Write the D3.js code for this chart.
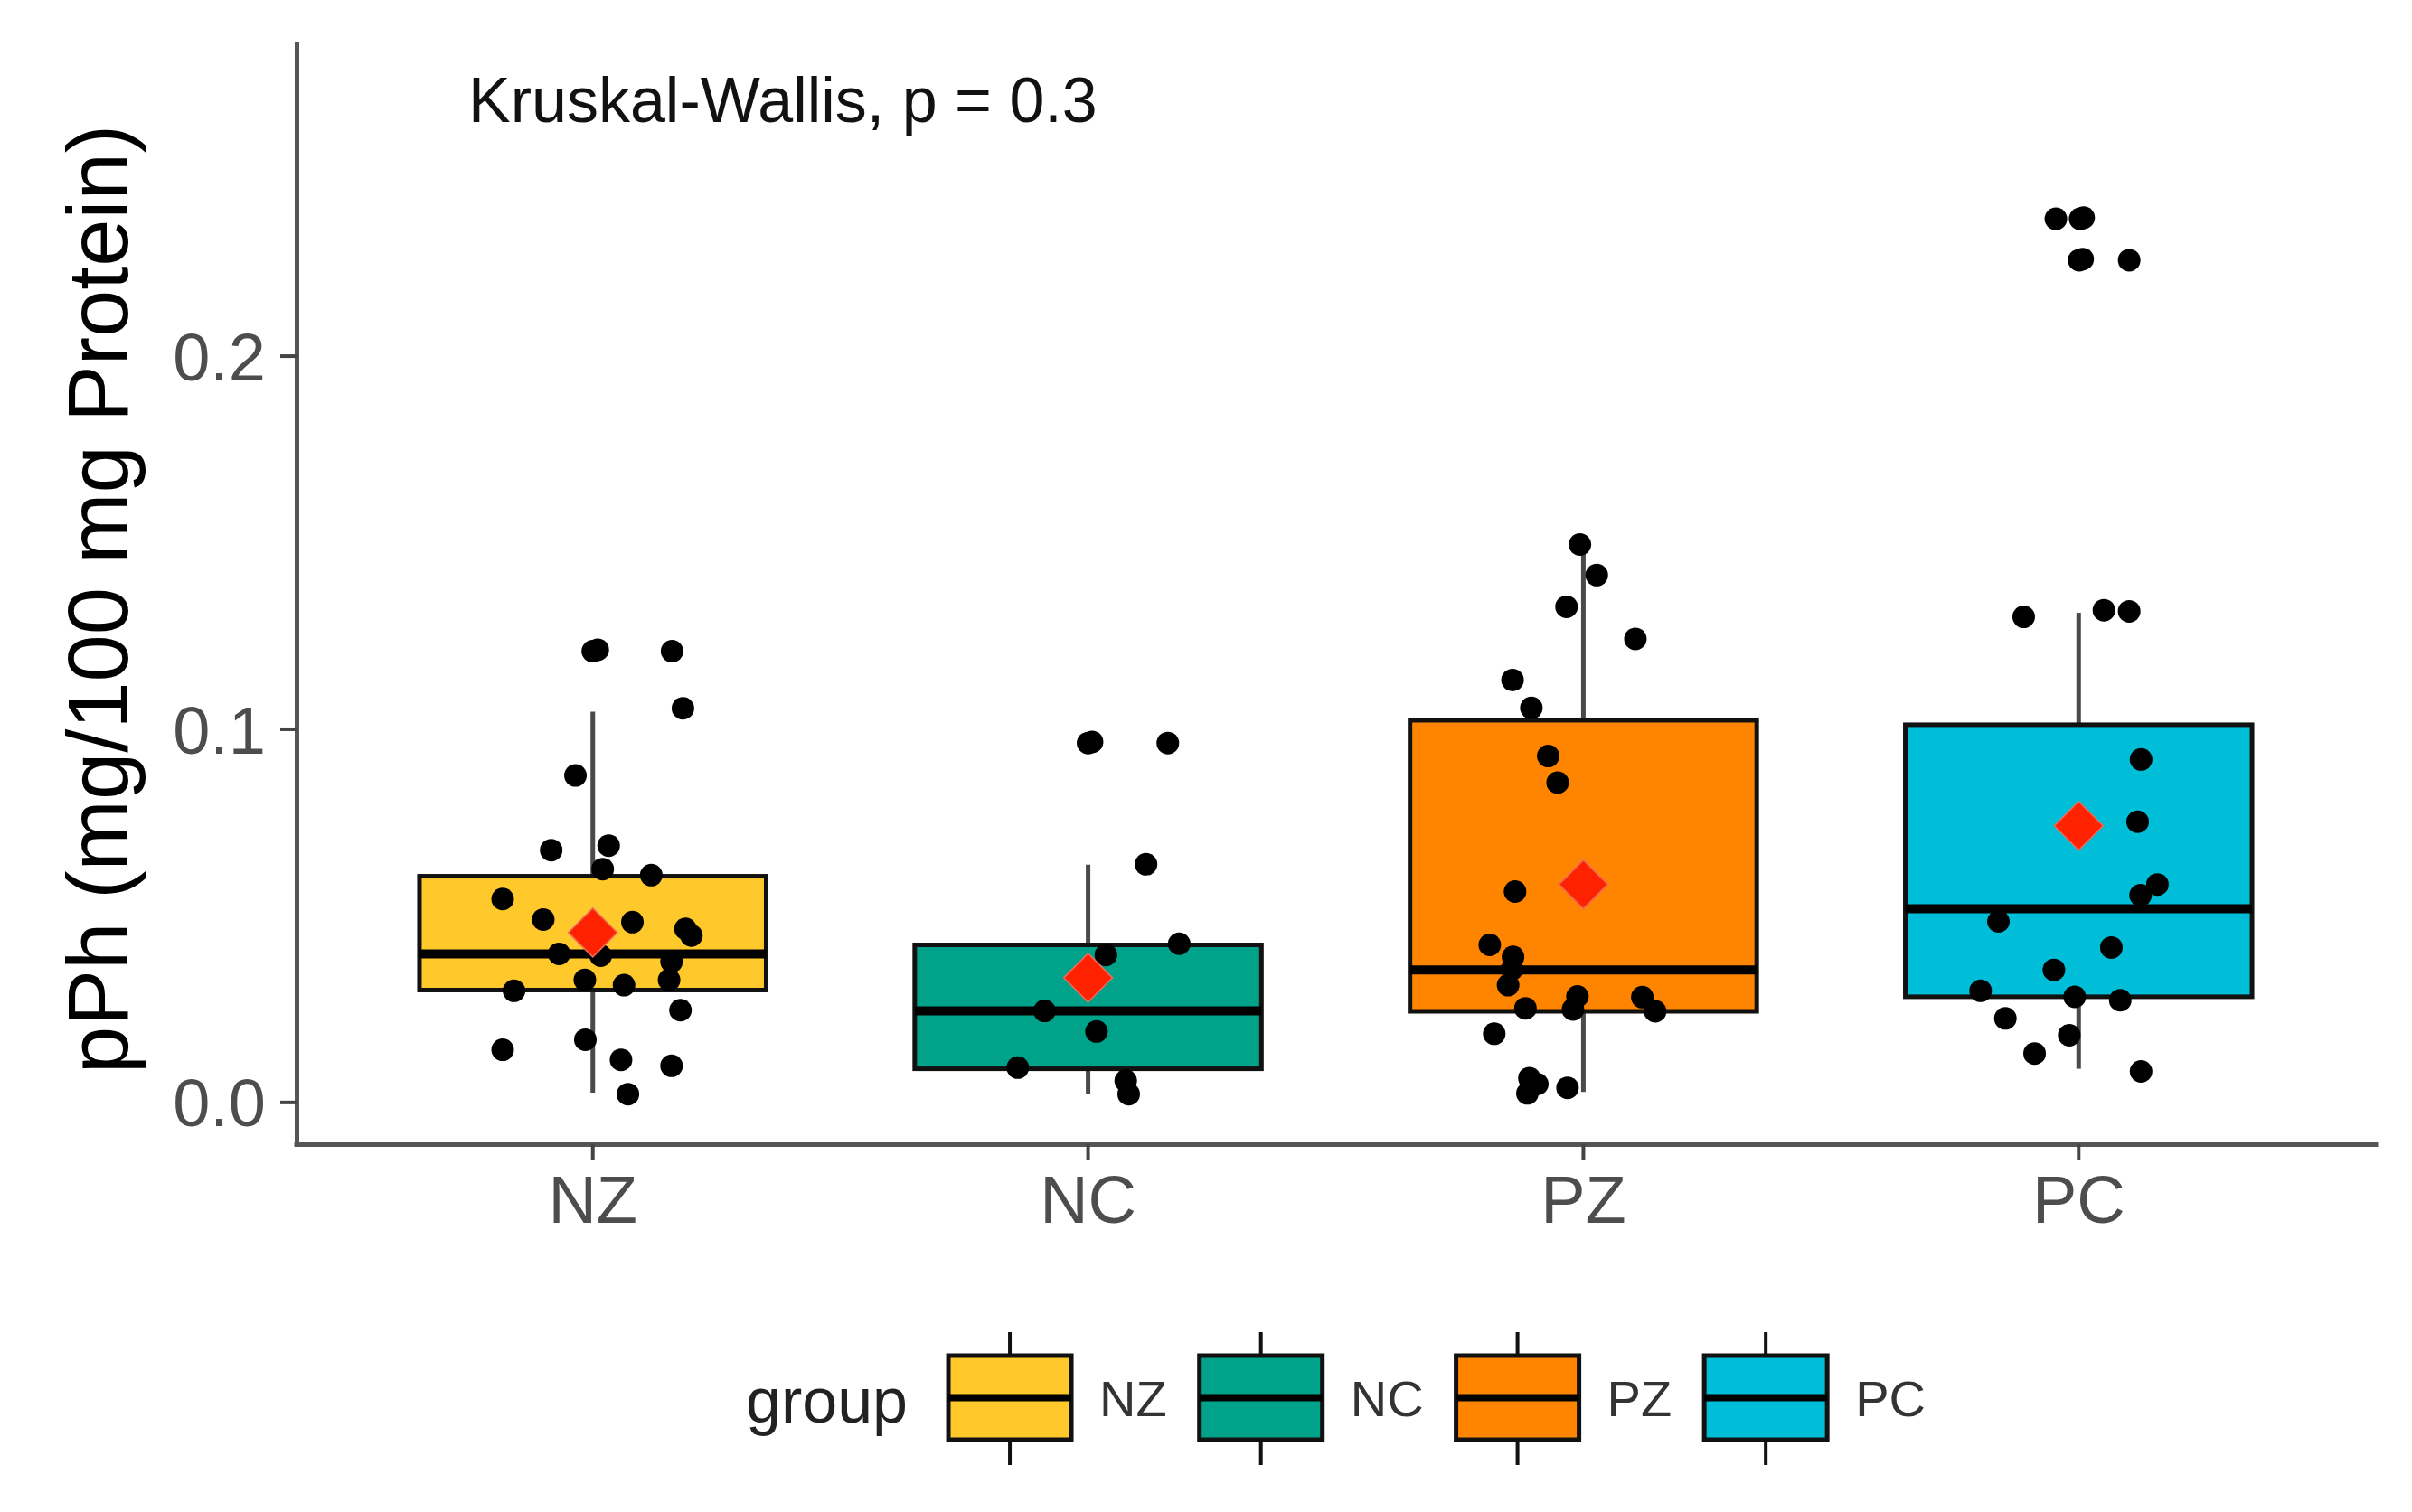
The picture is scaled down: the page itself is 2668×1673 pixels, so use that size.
<!DOCTYPE html>
<html>
<head>
<meta charset="utf-8">
<script src="https://cdn.jsdelivr.net/npm/d3@7"></script>
<style>
  html, body { margin: 0; padding: 0; background: #fff; }
  svg { display: block; font-family: "Liberation Sans", Arial, Helvetica, sans-serif; }
</style>
</head>
<body>
<svg id="chart" width="2668" height="1673"></svg>
<script>
// ---------------- DATA ----------------
const categories = ["NZ", "NC", "PZ", "PC"];
const fillColors = ["#FFC92C", "#00A38A", "#FF8500", "#00BED8"];
const yTicks = [0, 0.1, 0.2];
const yTickLabels = ["0.0", "0.1", "0.2"];
const yTitle = "pPh (mg/100 mg Protein)";
const testLabel = "Kruskal-Wallis, p = 0.3";
const legendTitle = "group";

// Box statistics
const boxLower  = [0.0025, 0.0021, 0.0027, 0.0089];
const boxQ1     = [0.0300, 0.0089, 0.0243, 0.0282];
const boxMedian = [0.0397, 0.0244, 0.0354, 0.0518];
const boxQ3     = [0.0605, 0.0421, 0.1023, 0.1011];
const boxUpper  = [0.1046, 0.0636, 0.1491, 0.1311];
const groupMean = [0.0454, 0.0333, 0.0583, 0.0740];

// Jittered observations: values and horizontal jitter (fraction of category step)
const nzValues = [0.1208, 0.1212, 0.1208, 0.1055, 0.0875, 0.0675, 0.0687, 0.0624, 0.0608, 0.0544,
                  0.0489, 0.0482, 0.0464, 0.0446, 0.0397, 0.0392, 0.0376, 0.0327, 0.0327, 0.0313,
                  0.0298, 0.0246, 0.0167, 0.0140, 0.0113, 0.0097, 0.0021];
const nzJitter = [0.000, 0.010, 0.160, 0.182, -0.035, -0.084, 0.032, 0.020, 0.118, -0.182,
                  -0.100, 0.080, 0.187, 0.199, -0.068, 0.016, 0.159, 0.154, -0.016, 0.063,
                  -0.159, 0.177, -0.015, -0.182, 0.057, 0.159, 0.071];
const ncValues = [0.0962, 0.0965, 0.0962, 0.0637, 0.0424, 0.0394, 0.0244, 0.0189, 0.0092, 0.0057, 0.0021];
const ncJitter = [0.000, 0.008, 0.161, 0.117, 0.184, 0.036, -0.088, 0.017, -0.142, 0.076, 0.082];
const pzValues = [0.1494, 0.1412, 0.1327, 0.1241, 0.1131, 0.1056, 0.0927, 0.0856, 0.0564, 0.0421,
                  0.0389, 0.0356, 0.0313, 0.0283, 0.0251, 0.0248, 0.0281, 0.0243, 0.0183, 0.0064,
                  0.0048, 0.0023, 0.0038];
const pzJitter = [-0.007, 0.027, -0.034, 0.105, -0.143, -0.105, -0.071, -0.052, -0.138, -0.189,
                  -0.142, -0.144, -0.152, -0.012, -0.117, -0.021, 0.119, 0.145, -0.180, -0.109,
                  -0.093, -0.113, -0.032];
const pcValues = [0.2367, 0.2367, 0.2370, 0.2256, 0.2259, 0.2256, 0.1300, 0.1318, 0.1315, 0.0918,
                  0.0751, 0.0583, 0.0554, 0.0484, 0.0414, 0.0354, 0.0298, 0.0282, 0.0273, 0.0224,
                  0.0179, 0.0130, 0.0082];
const pcJitter = [-0.046, 0.003, 0.010, 0.001, 0.008, 0.102, -0.111, 0.051, 0.102, 0.126,
                  0.119, 0.159, 0.125, -0.162, 0.066, -0.050, -0.198, -0.008, 0.084, -0.148,
                  -0.019, -0.089, 0.126];

const groupValues = [nzValues, ncValues, pzValues, pcValues];
const groupJitter = [nzJitter, ncJitter, pzJitter, pcJitter];

// ---------------- LAYOUT ----------------
const plotLeft = 328, plotRight = 2628, plotTop = 48, plotBottom = 1266;
const svg = d3.select("#chart");

const x = d3.scaleBand().domain(categories).range([plotLeft - 1, plotRight])
  .paddingInner(0).paddingOuter(0.1);
const step = x.step();
const cx = c => x(c) + x.bandwidth() / 2;
const y = d3.scaleLinear().domain([-0.0113, 0.2837]).range([plotBottom, plotTop]);
const color = d3.scaleOrdinal().domain(categories).range(fillColors);
const boxW = 0.7 * step;

// ---------------- BOXES ----------------
const boxes = categories.map((c, i) => ({
  c, lo: boxLower[i], q1: boxQ1[i], med: boxMedian[i], q3: boxQ3[i], hi: boxUpper[i], mean: groupMean[i]
}));

const gBox = svg.append("g");
gBox.selectAll("line.wu").data(boxes).join("line")
  .attr("x1", d => cx(d.c)).attr("x2", d => cx(d.c))
  .attr("y1", d => y(d.q3)).attr("y2", d => y(d.hi))
  .attr("stroke", "#4a4a4a").attr("stroke-width", 5);
gBox.selectAll("line.wl").data(boxes).join("line")
  .attr("x1", d => cx(d.c)).attr("x2", d => cx(d.c))
  .attr("y1", d => y(d.q1)).attr("y2", d => y(d.lo))
  .attr("stroke", "#4a4a4a").attr("stroke-width", 5);
gBox.selectAll("rect.box").data(boxes).join("rect")
  .attr("x", d => cx(d.c) - boxW / 2).attr("width", boxW)
  .attr("y", d => y(d.q3)).attr("height", d => y(d.q1) - y(d.q3))
  .attr("fill", d => color(d.c)).attr("stroke", "#111").attr("stroke-width", 5);
gBox.selectAll("line.med").data(boxes).join("line")
  .attr("x1", d => cx(d.c) - boxW / 2).attr("x2", d => cx(d.c) + boxW / 2)
  .attr("y1", d => y(d.med)).attr("y2", d => y(d.med))
  .attr("stroke", "#000").attr("stroke-width", 10);

// ---------------- POINTS ----------------
const pts = [];
categories.forEach((c, i) => {
  groupValues[i].forEach((v, j) => pts.push({ c, v, j: groupJitter[i][j] }));
});
svg.append("g").selectAll("circle").data(pts).join("circle")
  .attr("cx", d => cx(d.c) + d.j * step)
  .attr("cy", d => y(d.v))
  .attr("r", 12.5)
  .attr("fill", "#000");

// ---------------- MEANS ----------------
const dsz = 27;
svg.append("g").selectAll("path").data(boxes).join("path")
  .attr("d", d => {
    const px = cx(d.c), py = y(d.mean);
    return `M${px},${py - dsz} L${px + dsz},${py} L${px},${py + dsz} L${px - dsz},${py} Z`;
  })
  .attr("fill", "#FF2200").attr("stroke", "#f06a5a").attr("stroke-width", 1.5);

// ---------------- AXES ----------------
const yAxis = d3.axisLeft(y).tickValues(yTicks)
  .tickFormat((d, i) => yTickLabels[i]).tickSizeOuter(0).tickSizeInner(18).tickPadding(16);
const gy = svg.append("g").attr("transform", `translate(${plotLeft},0)`).call(yAxis);
const xAxis = d3.axisBottom(x).tickSizeOuter(0).tickSizeInner(18).tickPadding(16);
const gx = svg.append("g").attr("transform", `translate(0,${plotBottom})`).call(xAxis);
gx.select(".domain").attr("d", `M${plotLeft},0.5H${plotRight}`);

[gx, gy].forEach(g => {
  g.select(".domain").attr("stroke", "#555").attr("stroke-width", 5).attr("stroke-linecap", "square");
  g.selectAll(".tick line").attr("stroke", "#444").attr("stroke-width", 4);
  g.selectAll(".tick text").attr("fill", "#4d4d4d").attr("font-size", 74)
    .attr("font-family", "Liberation Sans, Arial, sans-serif");
});
gy.selectAll(".tick text").attr("dy", "0.36em");

// y title
svg.append("text")
  .attr("transform", `translate(141, ${(plotTop + plotBottom) / 2 + 6}) rotate(-90)`)
  .attr("text-anchor", "middle")
  .attr("font-size", 94).attr("fill", "#000")
  .text(yTitle);

// test label
svg.append("text")
  .attr("x", 518).attr("y", 135)
  .attr("font-size", 70).attr("fill", "#111")
  .text(testLabel);

// ---------------- LEGEND ----------------
const legY = 1500, keyW = 136, keyH = 93;
const leg = svg.append("g");
const title = leg.append("text").attr("x", 825).attr("y", 1574)
  .attr("font-size", 70).attr("fill", "#222").text(legendTitle);
let lx = 825 + title.node().getComputedTextLength() + 45;
categories.forEach((c, i) => {
  const g = leg.append("g");
  const kx = lx + keyW / 2;
  g.append("line").attr("x1", kx).attr("x2", kx).attr("y1", legY - 26).attr("y2", legY + keyH + 28)
    .attr("stroke", "#111").attr("stroke-width", 4);
  g.append("rect").attr("x", lx).attr("y", legY).attr("width", keyW).attr("height", keyH)
    .attr("fill", color(c)).attr("stroke", "#111").attr("stroke-width", 5);
  g.append("line").attr("x1", lx).attr("x2", lx + keyW).attr("y1", legY + keyH / 2).attr("y2", legY + keyH / 2)
    .attr("stroke", "#000").attr("stroke-width", 8);
  const t = g.append("text").attr("x", lx + keyW + 31).attr("y", legY + keyH / 2 + 20)
    .attr("font-size", 56).attr("fill", "#333").text(c);
  lx = lx + keyW + 31 + t.node().getComputedTextLength() + 36;
});
</script>
</body>
</html>
